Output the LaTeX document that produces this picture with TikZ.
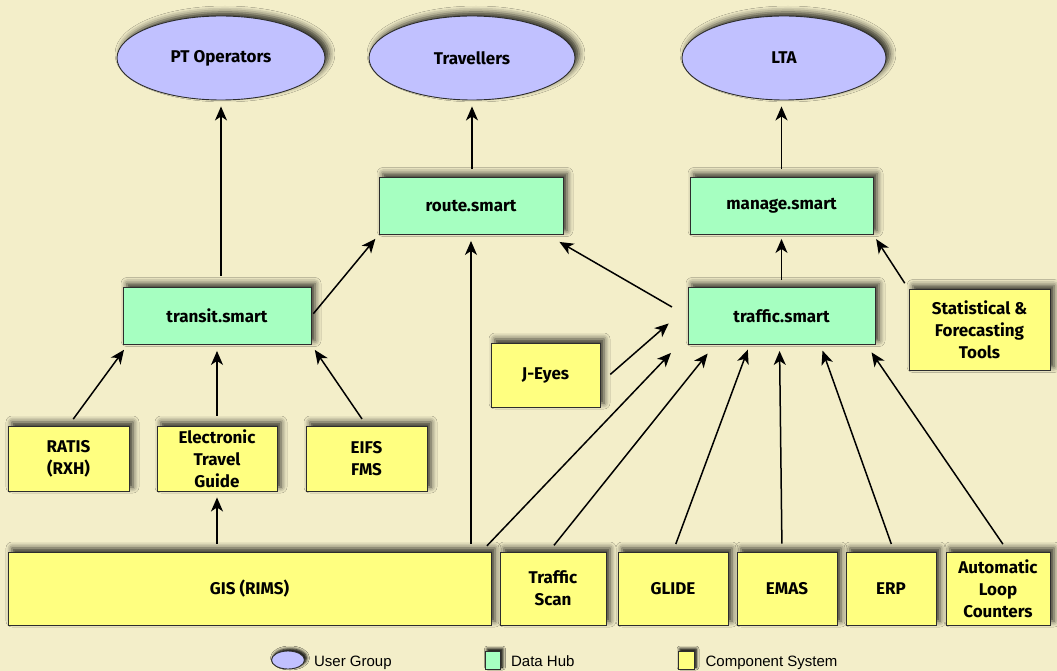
\documentclass[tikz,border=0pt]{standalone}
\usepackage{xcolor}
\usepackage{fontspec}
\setmainfont{Fira Sans}
\newfontfamily\legendfont{Liberation Sans}
\usepackage{tikz}
\usetikzlibrary{arrows.meta, positioning, shapes, shadows.blur}
\definecolor{bgcream}{RGB}{243, 238, 201}
\definecolor{ugblue}{RGB}{193, 193, 255}
\definecolor{hubgreen}{RGB}{166, 255, 193}
\definecolor{compyellow}{RGB}{255, 255, 128}
\definecolor{edgegray}{RGB}{45, 45, 45}
\newcommand{\labelfont}{\bfseries\fontsize{17}{22}\selectfont}

\begin{document}
\begin{tikzpicture}[x=1pt, y=-1pt, node distance=4pt]
\tikzstyle{boxshadow} = [blur shadow={shadow xshift=4pt, shadow yshift=4pt, shadow blur radius=6pt, shadow opacity=80}]
\tikzstyle{smallshadow} = [blur shadow={shadow xshift=2pt, shadow yshift=2pt, shadow blur radius=3pt, shadow opacity=75}]
\tikzstyle{usergroup} = [ellipse, draw=edgegray, line width=0.9pt, fill=ugblue, boxshadow, font=\labelfont, inner sep=1pt]
\tikzstyle{datahub} = [rectangle, draw=edgegray, line width=0.9pt, fill=hubgreen, boxshadow, font=\labelfont, minimum height=57pt]
\tikzstyle{component} = [rectangle, draw=edgegray, line width=0.9pt, fill=compyellow, boxshadow, font=\labelfont, align=center, inner sep=1pt]
\tikzstyle{legend} = [font=\legendfont\fontsize{15}{18}\selectfont, inner sep=0pt, text height=11pt, text depth=2pt, anchor=west, yshift=-2pt]
\tikzstyle{arrow} = [line width=1.5pt, -{Stealth[length=14pt, width=12pt, inset=4pt]}, shorten <=8pt, shorten >=6pt]

\fill[bgcream] (0,0) rectangle (1057,671);
\useasboundingbox (0,0) rectangle (1057,671);

% user groups
\node (pto) [usergroup, minimum width=208pt, minimum height=84pt] at (221,58) {PT Operators};
\node (trav) [usergroup, minimum width=206pt, minimum height=84pt] at (472,58) {Travellers};
\node (lta) [usergroup, minimum width=204pt, minimum height=84pt] at (784,58) {LTA};

% data hubs
\node (route) [datahub, minimum width=184pt] at (471,206) {route.smart};
\node (manage) [datahub, minimum width=183pt] at (781.5,206) {manage.smart};
\node (transit) [datahub, minimum width=188pt] at (217,316) {transit.smart};
\node (traffic) [datahub, minimum width=187pt] at (781.5,316) {traffic.smart};

% component systems
\node (stat) [component, minimum width=141pt, minimum height=81pt] at (979.5,330) {Statistical \&\\Forecasting\\Tools};
\node (jeyes) [component, minimum width=109pt, minimum height=64pt] at (545.5,375) {J-Eyes};
\node (ratis) [component, minimum width=121pt, minimum height=65pt] at (68.5,458.5) {RATIS\\(RXH)};
\node (etg) [component, minimum width=120pt, minimum height=65pt] at (217,458.5) {Electronic\\Travel\\Guide};
\node (eifs) [component, minimum width=121pt, minimum height=65pt] at (366.5,458.5) {EIFS\\FMS};
\node (gis) [component, minimum width=483pt, minimum height=73pt] at (249.5,588.5) {GIS (RIMS)};
\node (tscan) [component, minimum width=106pt, minimum height=73pt] at (553,588.5) {Traffic\\Scan};
\node (glide) [component, minimum width=110pt, minimum height=73pt] at (673,588.5) {GLIDE};
\node (emas) [component, minimum width=100pt, minimum height=73pt] at (787,588.5) {EMAS};
\node (erp) [component, minimum width=90pt, minimum height=73pt] at (891,588.5) {ERP};
\node (alc) [component, minimum width=104pt, minimum height=73pt] at (998,588.5) {Automatic\\Loop\\Counters};

% arrows
\draw [arrow, shorten <=11pt] (pto.south |- transit.north) -- (pto.south);
\draw [arrow] (trav.south |- route.north) -- (trav.south);
\draw [arrow] (manage.north) -- (manage.north |- lta.south);
\draw [arrow, shorten <=3pt, shorten >=5pt] (transit.east) -- (route.south west);
\draw [arrow, shorten <=18pt, shorten >=0pt] (traffic.west) -- ([xshift=-4pt, yshift=-7pt]route.south east);
\draw [arrow, shorten <=7pt, shorten >=4pt] (traffic) -- (manage);
\draw [arrow, shorten <=7pt, shorten >=5pt] (stat.north west) -- (manage.south east);
\draw [arrow] (ratis.north) -- ([xshift=5pt]transit.south west);
\draw [arrow, shorten <=10pt] (etg) -- (transit);
\draw [arrow] (eifs.north) -- (transit.south east);
\draw [arrow] (etg.south |- gis.north) -- (etg.south);
\draw [arrow] (route.south |- gis.north) -- (route.south);
\draw [arrow, shorten <=13pt, shorten >=25pt] ([yshift=-8pt]jeyes.east) -- ([yshift=9pt]traffic.west);
\draw [arrow, shorten >=11pt] ([xshift=-10pt]gis.north east) -- ([xshift=-9pt]traffic.south west);
\draw [arrow, shorten >=11pt] ([xshift=-4pt]tscan.north) -- ([xshift=27pt]traffic.south west);
\draw [arrow, shorten >=5pt] (glide.north) -- ([xshift=62pt]traffic.south west);
\draw [arrow] ([xshift=-5pt]emas.north) -- ([xshift=-2pt]traffic.south);
\draw [arrow] ([xshift=3pt]erp.north) -- ([xshift=39pt]traffic.south);
\draw [arrow, shorten <=9pt, shorten >=9pt] ([xshift=10pt]alc.north) -- ([xshift=-9pt]traffic.south east);

% legend
\node (lgug) [usergroup, minimum width=33pt, minimum height=18pt, smallshadow] at (288,660) {};
\node (lgugtxt) [legend, right=9pt of lgug] {User Group};
\node (lghub) [datahub, minimum width=15pt, minimum height=18pt, inner sep=0pt, smallshadow] at (493,660) {};
\node (lghubtxt) [legend, right=10pt of lghub] {Data Hub};
\node (lgcomp) [component, minimum width=16pt, minimum height=18pt, inner sep=0pt, smallshadow] at (686,660) {};
\node (lgcomptxt) [legend, right=11pt of lgcomp] {Component System};
\end{tikzpicture}
\end{document}
